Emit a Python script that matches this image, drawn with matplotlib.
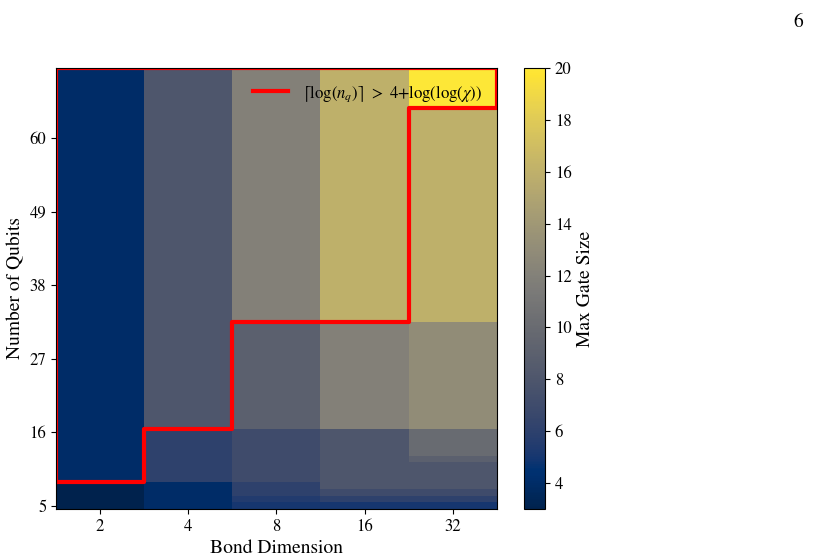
import numpy as np
import matplotlib
matplotlib.use('Agg')
import matplotlib.pyplot as plt

plt.rcParams['font.family'] = ['STIXGeneral', 'DejaVu Serif']
plt.rcParams['mathtext.fontset'] = 'stix'

bond_dims = [2, 4, 8, 16, 32]
n_qubits = np.arange(5, 71)

# for each bond dimension: the last qubit count of each block and its max gate size
block_ends = [
    [8, 70],
    [8, 16, 70],
    [5, 6, 8, 16, 32, 70],
    [5, 6, 7, 16, 32, 70],
    [5, 6, 7, 11, 12, 16, 32, 64, 70],
]
block_vals = [
    [3, 4],
    [4, 6, 8],
    [5, 5.5, 6, 7, 9, 12],
    [5, 6, 7, 8, 12, 16],
    [5, 6, 7, 8, 9, 10, 13, 16, 20],
]

# largest qubit count below the red line, per bond dimension
line_nq = [8, 16, 32, 32, 64]

ytick_labels = [5, 16, 27, 38, 49, 60]

grid = np.zeros((len(n_qubits), len(bond_dims)))
for j in range(len(bond_dims)):
    start = n_qubits[0]
    for end, v in zip(block_ends[j], block_vals[j]):
        grid[(n_qubits >= start) & (n_qubits <= end), j] = v
        start = end + 1

fig = plt.figure(figsize=(8.15, 5.6), dpi=100)
ax = fig.add_axes([0.0687, 0.0911, 0.541, 0.7875])
cax = fig.add_axes([0.643, 0.0911, 0.0258, 0.7875])

im = ax.imshow(grid, origin='lower', cmap='cividis', vmin=3, vmax=20,
               aspect='auto', interpolation='nearest')

# step boundary, closed round the top-left region
top = len(n_qubits) - 0.5
xs = [-0.5]
ys = [line_nq[0] - n_qubits[0] + 0.5]
for j, nq in enumerate(line_nq):
    y = nq - n_qubits[0] + 0.5
    xs += [j - 0.5, j + 0.5]
    ys += [y, y]
xs += [len(bond_dims) - 0.5, len(bond_dims) - 0.5, -0.5, -0.5]
ys += [ys[-1], top, top, ys[0]]
ax.plot(xs, ys, color='red', lw=3,
        label=r'$\lceil \log(n_q) \rceil\ >\ 4$+$\log(\log(\chi))$')

ax.set_xlim(-0.5, len(bond_dims) - 0.5)
ax.set_ylim(-0.5, top)
ax.set_xticks(range(len(bond_dims)))
ax.set_xticklabels([str(b) for b in bond_dims], fontsize=12)
ax.set_yticks([t - n_qubits[0] for t in ytick_labels])
ax.set_yticklabels([str(t) for t in ytick_labels], fontsize=12)
ax.set_xlabel('Bond Dimension', fontsize=14, labelpad=4)
ax.set_ylabel('Number of Qubits', fontsize=14, labelpad=4)
ax.legend(loc='upper right', frameon=False, fontsize=12, handlelength=2.1)

cb = fig.colorbar(im, cax=cax)
cb.set_ticks([4, 6, 8, 10, 12, 14, 16, 18, 20])
cb.ax.tick_params(labelsize=12)
cb.set_label('Max Gate Size', fontsize=14)

fig.text(0.985, 0.975, '6', fontsize=14, ha='right', va='top')

fig.savefig('out.png', dpi=100)
